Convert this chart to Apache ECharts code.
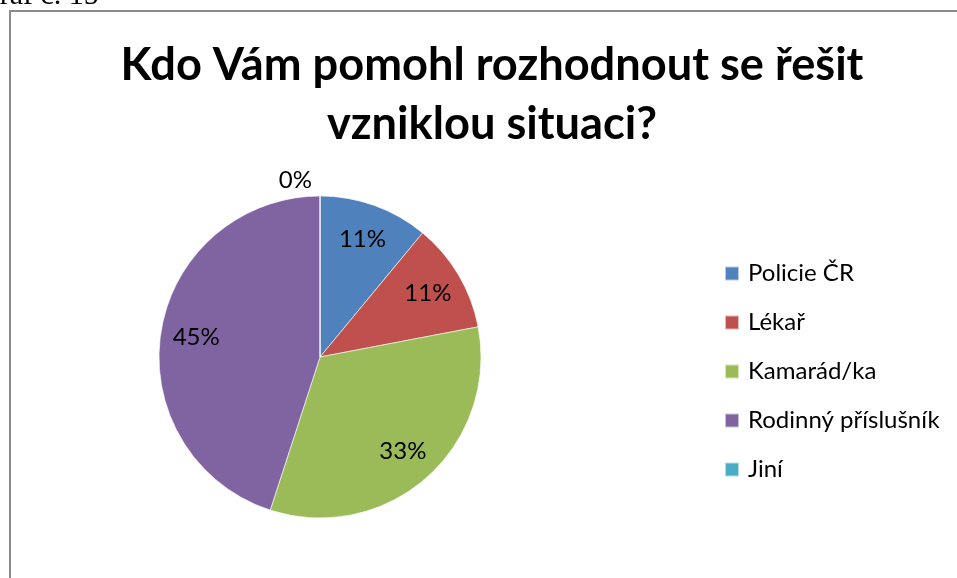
<!DOCTYPE html>
<html>
<head>
<meta charset="utf-8">
<script src="https://cdn.jsdelivr.net/npm/echarts@6/dist/echarts.min.js"></script>
<style>
    html, body { margin: 0; padding: 0; background: #fff; }
    #chart { width: 957px; height: 578px; }
</style>
</head>
<body>
<div id="chart"></div>
<script>
// data
const titleText = 'Kdo Vám pomohl rozhodnout se řešit\nvzniklou situaci?';
const categories = ['Policie ČR', 'Lékař', 'Kamarád/ka', 'Rodinný příslušník', 'Jiní'];
const percents = [11, 11, 33, 45, 0];
const colors = ['#4F81BD', '#C0504D', '#9BBB59', '#8064A2', '#4BACC6'];

const font = 'Lato';
const center = [320, 357];
const radius = 161;

// main pie, only the empty slice gets its label outside
const pieData = categories.map((name, i) => ({
    name: name,
    value: percents[i],
    label: percents[i] === 0 ? { show: true, position: 'outside' } : { show: false }
}));

// transparent copy, bigger, so the inside labels sit further out like in Excel
const labelData = categories.map((name, i) => ({
    name: name,
    value: percents[i],
    label: { show: percents[i] !== 0 }
}));

const chart = echarts.init(document.getElementById('chart'));

chart.setOption({
    color: colors,
    animation: false,
    title: {
        text: titleText,
        left: 487,
        textAlign: 'center',
        top: 31,
        textStyle: {
            fontFamily: font,
            fontSize: 45.2,
            fontWeight: 'bold',
            lineHeight: 59,
            color: '#000'
        }
    },
    legend: {
        orient: 'vertical',
        left: 719,
        top: 256,
        icon: 'rect',
        itemWidth: 14,
        itemHeight: 14,
        itemGap: 24,
        selectedMode: false,
        textStyle: {
            fontFamily: font,
            fontSize: 24,
            lineHeight: 25,
            padding: [0, 0, 0, 4],
            color: '#000'
        },
        data: categories
    },
    graphic: [
        {
            type: 'rect',
            shape: { x: 10, y: 11, width: 1000, height: 1000 },
            style: { fill: 'none', stroke: '#8a8a8a', lineWidth: 2 },
            silent: true
        },
        {
            // caption above the chart, cut off by the top of the picture
            type: 'text',
            x: -22,
            y: 11,
            style: {
                text: 'Graf č. 15',
                font: '30px "Liberation Serif"',
                fill: '#000',
                verticalAlign: 'bottom'
            },
            silent: true
        }
    ],
    series: [
        {
            type: 'pie',
            center: center,
            radius: [0, radius],
            startAngle: 90,
            clockwise: true,
            avoidLabelOverlap: false,
            itemStyle: { borderColor: 'rgba(255,255,255,0.6)', borderWidth: 1 },
            label: {
                fontFamily: font,
                fontSize: 24,
                color: '#000',
                formatter: '{c}%'
            },
            labelLine: { show: false, length: 16, length2: 3 },
            emphasis: { disabled: true },
            data: pieData
        },
        {
            type: 'pie',
            center: center,
            radius: [0, radius * 1.52],
            startAngle: 90,
            clockwise: true,
            silent: true,
            avoidLabelOverlap: false,
            itemStyle: { color: 'rgba(0,0,0,0)', borderWidth: 0 },
            label: {
                position: 'inside',
                fontFamily: font,
                fontSize: 24,
                color: '#000',
                formatter: '{c}%'
            },
            labelLine: { show: false },
            emphasis: { disabled: true },
            data: labelData
        }
    ]
});
</script>
</body>
</html>
